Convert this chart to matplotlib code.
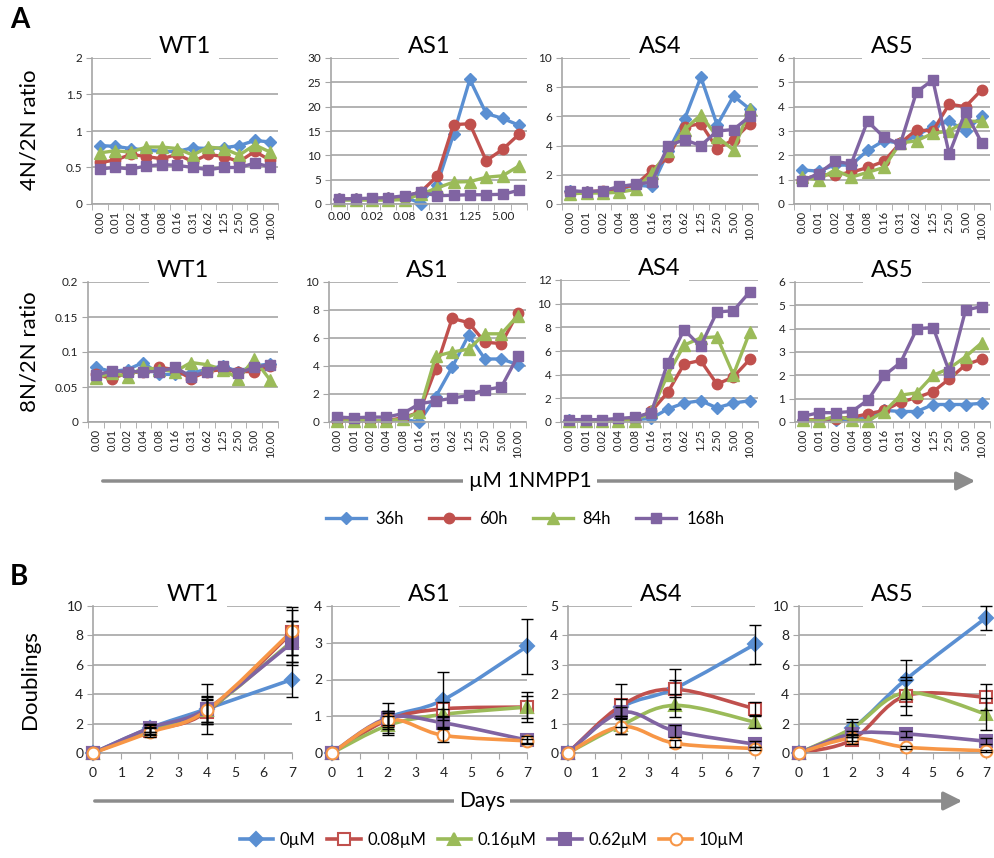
import matplotlib
matplotlib.use('Agg')
import matplotlib.pyplot as plt
import numpy as np
from matplotlib.path import Path
from matplotlib.patches import PathPatch, FancyArrowPatch
from matplotlib.lines import Line2D
from matplotlib.ticker import FuncFormatter, FixedLocator

plt.rcParams['font.family'] = ['Lato', 'DejaVu Sans']

# ---------------- data ----------------
doses = ['0.00', '0.01', '0.02', '0.04', '0.08', '0.16', '0.31', '0.62',
         '1.25', '2.50', '5.00', '10.00']
timepoints = ['36h', '60h', '84h', '168h']
lines_a = ['WT1', 'AS1', 'AS4', 'AS5']

# 4N/2N ratio, rows = 36h, 60h, 84h, 168h
wt1_4n = [[0.80, 0.79, 0.76, 0.74, 0.72, 0.72, 0.77, 0.76, 0.77, 0.80, 0.87, 0.85],
          [0.57, 0.60, 0.68, 0.65, 0.62, 0.68, 0.58, 0.68, 0.65, 0.58, 0.72, 0.60],
          [0.70, 0.73, 0.71, 0.78, 0.78, 0.76, 0.67, 0.78, 0.76, 0.67, 0.81, 0.71],
          [0.48, 0.50, 0.48, 0.52, 0.54, 0.53, 0.50, 0.47, 0.50, 0.50, 0.56, 0.51]]
as1_4n = [[1.0, 1.0, 1.1, 1.2, 1.5, 0.1, 4.0, 14.3, 25.6, 18.6, 17.6, 16.2],
          [1.0, 1.0, 1.1, 1.2, 1.5, 2.5, 5.7, 16.3, 16.5, 8.9, 11.2, 14.3],
          [0.8, 0.8, 0.8, 0.8, 0.9, 2.0, 3.3, 4.5, 4.6, 5.5, 5.8, 7.8],
          [1.0, 1.1, 1.2, 1.3, 1.7, 2.4, 1.7, 1.8, 1.9, 1.9, 2.0, 2.8]]
as4_4n = [[0.9, 0.8, 0.85, 1.0, 1.3, 1.2, 3.6, 5.8, 8.7, 5.4, 7.4, 6.5],
          [0.85, 0.85, 0.9, 1.1, 1.3, 2.3, 3.2, 5.3, 5.5, 3.8, 4.4, 5.5],
          [0.7, 0.75, 0.75, 0.8, 1.0, 2.1, 3.6, 5.1, 6.1, 4.6, 3.7, 6.5],
          [0.9, 0.85, 0.9, 1.2, 1.35, 1.5, 4.0, 4.4, 4.0, 5.0, 5.1, 6.0]]
as5_4n = [[1.4, 1.35, 1.6, 1.6, 2.2, 2.6, 2.5, 2.8, 3.2, 3.4, 3.0, 3.6],
          [1.0, 1.2, 1.2, 1.3, 1.5, 1.75, 2.5, 3.05, 3.0, 4.1, 4.0, 4.7],
          [1.1, 1.0, 1.4, 1.1, 1.3, 1.5, 2.5, 2.6, 2.9, 3.0, 3.4, 3.4],
          [0.95, 1.25, 1.75, 1.65, 3.4, 2.75, 2.45, 4.6, 5.1, 2.05, 3.8, 2.5]]

# 8N/2N ratio
wt1_8n = [[0.078, 0.072, 0.075, 0.085, 0.068, 0.068, 0.070, 0.075, 0.080, 0.072, 0.080, 0.083],
          [0.068, 0.062, 0.070, 0.072, 0.078, 0.075, 0.062, 0.072, 0.075, 0.072, 0.072, 0.080],
          [0.063, 0.070, 0.065, 0.078, 0.075, 0.072, 0.085, 0.082, 0.075, 0.062, 0.090, 0.060],
          [0.067, 0.073, 0.072, 0.072, 0.072, 0.078, 0.065, 0.072, 0.080, 0.070, 0.078, 0.082]]
as1_8n = [[0.1, 0.1, 0.1, 0.1, 0.2, 0.0, 1.8, 3.9, 6.2, 4.5, 4.5, 4.1],
          [0.1, 0.1, 0.1, 0.1, 0.3, 0.7, 3.8, 7.4, 7.1, 5.7, 5.6, 7.8],
          [0.05, 0.1, 0.1, 0.1, 0.2, 0.7, 4.7, 5.0, 5.2, 6.3, 6.3, 7.6],
          [0.35, 0.3, 0.35, 0.35, 0.6, 1.3, 1.5, 1.7, 1.9, 2.3, 2.5, 4.7]]
as4_8n = [[0.15, 0.1, 0.1, 0.15, 0.2, 0.3, 1.1, 1.6, 1.8, 1.2, 1.6, 1.8],
          [0.1, 0.1, 0.1, 0.1, 0.2, 0.9, 2.5, 4.9, 5.2, 3.2, 3.8, 5.3],
          [0.1, 0.1, 0.1, 0.1, 0.1, 0.9, 4.0, 6.5, 7.1, 7.2, 4.0, 7.6],
          [0.2, 0.2, 0.2, 0.3, 0.4, 0.8, 5.0, 7.8, 6.4, 9.3, 9.4, 11.0]]
as5_8n = [[0.1, 0.1, 0.1, 0.1, 0.2, 0.5, 0.45, 0.45, 0.75, 0.75, 0.75, 0.8],
          [0.1, 0.1, 0.15, 0.2, 0.35, 0.5, 0.85, 1.05, 1.3, 1.85, 2.45, 2.7],
          [0.1, 0.05, 0.25, 0.1, 0.05, 0.45, 1.15, 1.25, 2.0, 2.3, 2.8, 3.4],
          [0.25, 0.4, 0.4, 0.45, 0.95, 2.0, 2.55, 4.0, 4.05, 2.15, 4.8, 4.95]]

# Panel B: doublings over days
days = [0, 2, 4, 7]
concs = ['0µM', '0.08µM', '0.16µM', '0.62µM', '10µM']
wt1_dbl = [[0, 1.7, 3.0, 5.0], [0, 1.5, 2.8, 8.2], [0, 1.6, 2.9, 7.6],
           [0, 1.7, 3.0, 7.5], [0, 1.4, 2.9, 8.3]]
wt1_err = [[0, 0.3, 1.7, 1.2], [0, 0.3, 0.8, 1.5], [0, 0.3, 0.9, 1.4],
           [0, 0.3, 0.9, 1.5], [0, 0.3, 0.8, 1.6]]
as1_dbl = [[0, 0.95, 1.45, 2.9], [0, 0.9, 1.2, 1.25], [0, 0.75, 1.05, 1.25],
           [0, 0.95, 0.82, 0.35], [0, 0.9, 0.48, 0.33]]
as1_err = [[0, 0.4, 0.75, 0.75], [0, 0.25, 0.2, 0.4], [0, 0.25, 0.15, 0.3],
           [0, 0.2, 0.15, 0.1], [0, 0.2, 0.18, 0.05]]
as4_dbl = [[0, 1.55, 2.2, 3.7], [0, 1.62, 2.17, 1.5], [0, 0.95, 1.62, 1.05],
           [0, 1.38, 0.75, 0.3], [0, 0.9, 0.33, 0.15]]
as4_err = [[0, 0.3, 0.3, 0.67], [0, 0.73, 0.68, 0.22], [0, 0.3, 0.4, 0.2],
           [0, 0.2, 0.2, 0.1], [0, 0.25, 0.12, 0.05]]
as5_dbl = [[0, 1.7, 5.0, 9.2], [0, 0.9, 3.9, 3.8], [0, 1.7, 4.1, 2.65],
           [0, 1.3, 1.3, 0.8], [0, 1.0, 0.4, 0.15]]
as5_err = [[0, 0.6, 1.3, 0.8], [0, 0.3, 1.3, 0.9], [0, 0.4, 0.9, 1.1],
           [0, 0.2, 0.2, 0.2], [0, 0.2, 0.1, 0.05]]

# ---------------- style ----------------
BLUE, RED, GREEN, PURPLE, ORANGE = '#5A8FD2', '#C0504D', '#9BBB59', '#8064A2', '#F79646'
GRID = '#A6A6A6'
W, H = 994, 858

fig = plt.figure(figsize=(W / 100, H / 100), dpi=100)


def rect(x0, x1, ytop, ybot):
    return [x0 / W, 1 - ybot / H, (x1 - x0) / W, (ybot - ytop) / H]


def style_axes(ax, title, ylim, ystep, ytick_fs):
    ax.set_ylim(*ylim)
    ax.yaxis.set_major_locator(FixedLocator(np.arange(ylim[0], ylim[1] + ystep / 2, ystep)))
    ax.yaxis.set_major_formatter(FuncFormatter(lambda v, p: '%g' % round(v, 4)))
    ax.grid(axis='y', color=GRID, lw=1.2)
    ax.set_axisbelow(True)
    for s in ['top', 'right']:
        ax.spines[s].set_visible(False)
    for s in ['left', 'bottom']:
        ax.spines[s].set_color(GRID)
        ax.spines[s].set_linewidth(1.2)
    ax.tick_params(axis='y', direction='out', length=4, color=GRID, labelsize=ytick_fs,
                   labelcolor='#222222', pad=3)
    ax.annotate(title, xy=(0.5, 1.0), xycoords='axes fraction', xytext=(0, 8),
                textcoords='offset points', ha='center', va='center', fontsize=17,
                bbox=dict(boxstyle='square,pad=0.35', fc='white', ec='none'), zorder=10,
                annotation_clip=False)


series_a = [(BLUE, 'D', 6.5), (RED, 'o', 7.5), (GREEN, '^', 8.5), (PURPLE, 's', 7.5)]


def draw_a(ax, data, title, ylim, ystep, sparse_labels=False):
    xs = np.arange(len(doses))
    for (c, m, ms), vals in zip(series_a, data):
        ax.plot(xs, vals, color=c, marker=m, markersize=ms, lw=2.4, mec=c, mfc=c, clip_on=False)
    ax.set_xlim(-0.5, len(doses) - 0.5)
    style_axes(ax, title, ylim, ystep, 8.5)
    ax.xaxis.set_minor_locator(FixedLocator(np.arange(-0.5, len(doses), 1.0)))
    ax.tick_params(axis='x', which='minor', direction='out', length=4, color=GRID)
    if sparse_labels:
        ax.set_xticks(xs[::2])
        ax.set_xticklabels(doses[::2], fontsize=8.5, color='#222222')
    else:
        ax.set_xticks(xs)
        ax.set_xticklabels(doses, rotation=90, fontsize=8, color='#222222')
    ax.tick_params(axis='x', which='major', length=0, pad=5)


def bezier_path(x, y):
    pts = np.column_stack([x, y]).astype(float)
    n = len(pts)
    verts = [pts[0]]
    codes = [Path.MOVETO]
    for i in range(n - 1):
        p0 = pts[i - 1] if i > 0 else pts[i]
        p1, p2 = pts[i], pts[i + 1]
        p3 = pts[i + 2] if i + 2 < n else pts[i + 1]
        c1 = p1 + (p2 - p0) / 6.0
        c2 = p2 - (p3 - p1) / 6.0
        verts += [c1, c2, p2]
        codes += [Path.CURVE4] * 3
    return Path(verts, codes)


series_b = [(BLUE, 'D', 7, BLUE), (RED, 's', 8, 'white'), (GREEN, '^', 9, GREEN),
            (PURPLE, 's', 8, PURPLE), (ORANGE, 'o', 8.5, 'white')]


def draw_b(ax, data, errs, title, ylim, ystep):
    for (c, m, ms, fc), vals, e in zip(series_b, data, errs):
        ax.add_patch(PathPatch(bezier_path(days, vals), fc='none', ec=c, lw=2.6,
                               transform=ax.transData, clip_on=False, zorder=2))
        ax.plot(days, vals, ls='none', marker=m, markersize=ms, mec=c, mfc=fc, mew=1.5,
                clip_on=False, zorder=3)
        ax.errorbar(days[1:], vals[1:], yerr=e[1:], fmt='none', ecolor='black',
                    elinewidth=1, capsize=4, capthick=1, zorder=4, clip_on=False)
    ax.set_xlim(0, 7)
    ax.set_xticks(range(0, 8))
    ax.tick_params(axis='x', direction='out', length=4, color=GRID, labelsize=10,
                   labelcolor='#222222', pad=6)
    style_axes(ax, title, ylim, ystep, 10)


# Panel A row 1
ax = fig.add_axes(rect(92, 278, 58, 204)); draw_a(ax, wt1_4n, 'WT1', (0, 2), 0.5)
ax = fig.add_axes(rect(331, 527, 58, 204)); draw_a(ax, as1_4n, 'AS1', (0, 30), 5, sparse_labels=True)
ax = fig.add_axes(rect(562, 758, 58, 204)); draw_a(ax, as4_4n, 'AS4', (0, 10), 2)
ax = fig.add_axes(rect(794, 990, 58, 204)); draw_a(ax, as5_4n, 'AS5', (0, 6), 1)

# Panel A row 2
ax = fig.add_axes(rect(88, 278, 282, 422)); draw_a(ax, wt1_8n, 'WT1', (0, 0.2), 0.05)
ax = fig.add_axes(rect(329, 526, 282, 422)); draw_a(ax, as1_8n, 'AS1', (0, 10), 2)
ax = fig.add_axes(rect(561, 758, 280, 422)); draw_a(ax, as4_8n, 'AS4', (0, 12), 2)
ax = fig.add_axes(rect(795, 990, 282, 422)); draw_a(ax, as5_8n, 'AS5', (0, 6), 1)

# Panel B
ax = fig.add_axes(rect(93, 292, 606, 753)); draw_b(ax, wt1_dbl, wt1_err, 'WT1', (0, 10), 2)
ax = fig.add_axes(rect(332, 527, 606, 753)); draw_b(ax, as1_dbl, as1_err, 'AS1', (0, 4), 1)
ax = fig.add_axes(rect(568, 755, 606, 753)); draw_b(ax, as4_dbl, as4_err, 'AS4', (0, 5), 1)
ax = fig.add_axes(rect(799, 986, 606, 753)); draw_b(ax, as5_dbl, as5_err, 'AS5', (0, 10), 2)

# y-axis labels
fig.text(30 / W, 1 - 130 / H, '4N/2N ratio', rotation=90, ha='center', va='center', fontsize=16)
fig.text(30 / W, 1 - 352 / H, '8N/2N ratio', rotation=90, ha='center', va='center', fontsize=16)
fig.text(30 / W, 1 - 680 / H, 'Doublings', rotation=90, ha='center', va='center', fontsize=16)

# panel letters
fig.text(10 / W, 1 - 20 / H, 'A', fontsize=20, fontweight='bold', ha='left', va='center')
fig.text(10 / W, 1 - 577 / H, 'B', fontsize=20, fontweight='bold', ha='left', va='center')

# arrows
for (x0, x1, y, label, lx) in [(100, 978, 481, 'µM 1NMPP1', 530), (92, 965, 801, 'Days', 482)]:
    fig.add_artist(FancyArrowPatch((x0 / W, 1 - y / H), (x1 / W, 1 - y / H),
                                   transform=fig.transFigure,
                                   arrowstyle='-|>,head_length=0.8,head_width=0.4',
                                   mutation_scale=14, color='#8C8C8C', lw=2.5))
    fig.text(lx / W, 1 - y / H, label, ha='center', va='center', fontsize=15,
             bbox=dict(boxstyle='square,pad=0.25', fc='white', ec='none'))

# legends
ha = [Line2D([], [], color=c, marker=m, markersize=ms, lw=2.4) for c, m, ms in series_a]
fig.legend(ha, timepoints, loc='center', bbox_to_anchor=(525 / W, 1 - 519 / H), ncol=4,
           frameon=False, fontsize=12, handlelength=2.4, columnspacing=1.5, handletextpad=0.6)
hb = [Line2D([], [], color=c, marker=m, markersize=ms, mfc=fc, mec=c, mew=1.5, lw=2.6)
      for c, m, ms, fc in series_b]
fig.legend(hb, concs, loc='center', bbox_to_anchor=(492 / W, 1 - 840 / H), ncol=5,
           frameon=False, fontsize=12, handlelength=2.0, columnspacing=0.7, handletextpad=0.4)

fig.savefig('out.png', dpi=100)
